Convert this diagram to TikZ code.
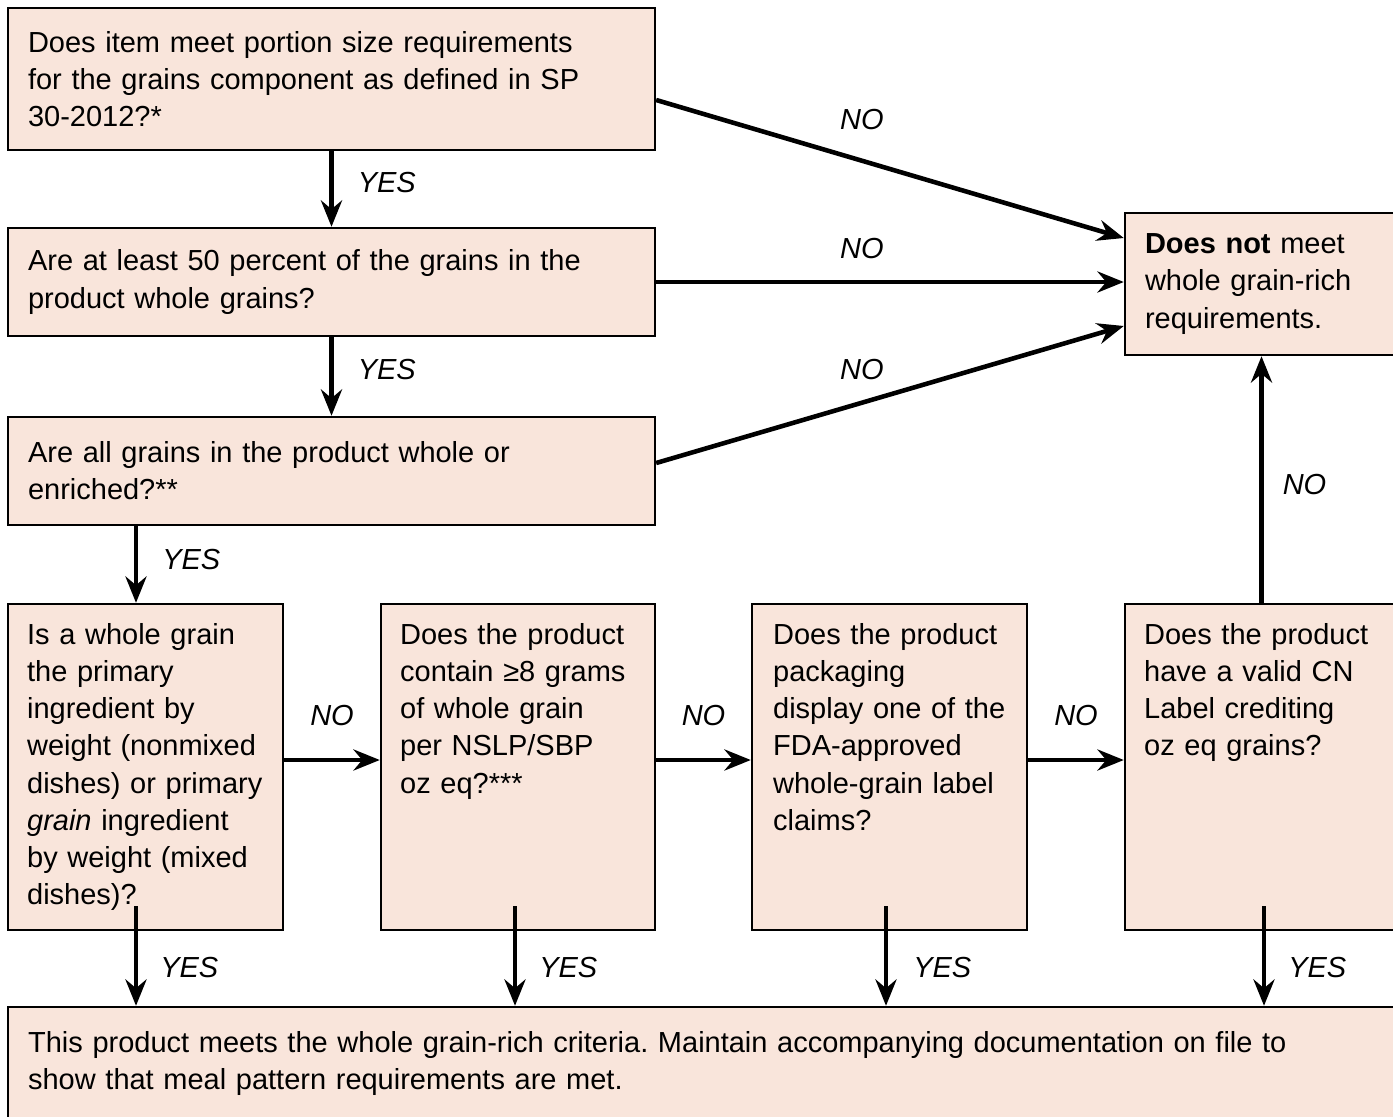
\documentclass[tikz,border=0pt]{standalone}
\usepackage{fontspec}
\setmainfont{Liberation Sans}
\usepackage{tikz}
\usetikzlibrary{arrows.meta,positioning}
\definecolor{boxfill}{RGB}{249,229,219}
\newcommand{\chartfont}{\fontsize{16.5}{21.2}\selectfont}
\hyphenpenalty=10000
\frenchspacing

\begin{document}
\begin{tikzpicture}[x=0.02cm,y=-0.02cm,
  >={Stealth[length=15pt,width=12pt,inset=5pt]},
  box node/.style={draw,line width=1.4pt,fill=boxfill,inner sep=0.4cm,align=left,font=\chartfont},
  text node/.style={inner sep=0.4cm,align=left,font=\chartfont},
  tag node/.style={inner sep=0pt,font=\chartfont\itshape},
  flow/.style={->,line width=2.6pt}]

  \clip (0,0) rectangle (1393,1116);

  \node[box node,text width=12.14cm,minimum height=2.84cm] (q1) at (331.5,79)
    {Does item meet portion size requirements\\for the grains component as defined in SP\\30-2012?*};
  \node[box node,text width=12.14cm,minimum height=2.16cm] (q2) at (331.5,282)
    {Are at least 50 percent of the grains in the\\product whole grains?};
  \node[box node,text width=12.14cm,minimum height=2.16cm] (q3) at (331.5,471)
    {Are all grains in the product whole or\\enriched?**};
  \node[box node,text width=4.66cm,minimum height=2.84cm] (fail) at (1261.5,284)
    {\textbf{Does not} meet\\whole grain-rich\\requirements.};

  \node[box node,minimum width=5.5cm,minimum height=6.52cm] (q4) at (145.5,767) {};
  \node[box node,minimum width=5.48cm,minimum height=6.52cm] (q5) at (518,767) {};
  \node[box node,minimum width=5.5cm,minimum height=6.52cm] (q6) at (889.5,767) {};
  \node[box node,minimum width=5.46cm,minimum height=6.52cm] (q7) at (1261.5,767) {};
  \node[text node,anchor=north west,text width=5cm] (t4) at (q4.north west)
    {Is a whole grain\\the primary\\ingredient by\\weight (nonmixed\\dishes) or primary\\\textit{grain} ingredient\\by weight (mixed\\dishes)?};
  \node[text node,anchor=north west,text width=5cm] (t5) at (q5.north west)
    {Does the product\\contain ≥8 grams\\of whole grain\\per NSLP/SBP\\oz eq?***};
  \node[text node,anchor=north west,text width=5cm] (t6) at ([xshift=0.04cm]q6.north west)
    {Does the product\\packaging\\display one of the\\FDA-approved\\whole-grain label\\claims?};
  \node[text node,anchor=north west,text width=5cm] (t7) at (q7.north west)
    {Does the product\\have a valid CN\\Label crediting\\oz eq grains?};

  \node[box node,text width=27.0cm,minimum height=2.26cm] (done) at (703,1063.5)
    {This product meets the whole grain-rich criteria. Maintain accompanying documentation on file to\\show that meal pattern requirements are met.};

  % yes branch down the left
  \draw[flow] (q1) -- (q2) node[tag node,pos=0.41,right=0.48cm] {YES};
  \draw[flow] (q2) -- (q3) node[tag node,pos=0.41,right=0.48cm] {YES};
  \draw[flow] ([xshift=-0.19cm]q4.north |- q3.south) -- ([xshift=-0.19cm]q4.north)
    node[tag node,pos=0.44,right=0.48cm] {YES};

  % no branches
  \draw[flow] ([yshift=-0.42cm]q1.east) -- ([yshift=0.92cm]fail.west)
    node[tag node,pos=0.44,above=0.57cm] {NO};
  \draw[flow] (q2.east) -- (q2.east -| fail.west)
    node[tag node,pos=0.44,above=0.41cm] {NO};
  \draw[flow] ([yshift=0.16cm]q3.east) -- ([yshift=-0.84cm]fail.west)
    node[tag node,pos=0.44,above=0.41cm] {NO};
  \draw[flow] ([yshift=0.14cm]q4.east) -- ([yshift=0.14cm]q5.west)
    node[tag node,midway,above=0.63cm] {NO};
  \draw[flow] ([yshift=0.14cm]q5.east) -- ([yshift=0.14cm]q6.west)
    node[tag node,midway,above=0.63cm] {NO};
  \draw[flow] ([yshift=0.14cm]q6.east) -- ([yshift=0.14cm]q7.west)
    node[tag node,midway,above=0.63cm] {NO};
  \draw[flow] (q7) -- (fail) node[tag node,pos=0.48,right=0.38cm] {NO};

  % yes into the last box
  \draw[flow] ([xshift=-0.19cm,yshift=0.5cm]q4.south) -- ([xshift=-0.19cm]q4.south |- done.north)
    node[tag node,pos=0.62,right=0.44cm] {YES};
  \draw[flow] ([xshift=-0.06cm,yshift=0.5cm]q5.south) -- ([xshift=-0.06cm]q5.south |- done.north)
    node[tag node,pos=0.62,right=0.44cm] {YES};
  \draw[flow] ([xshift=-0.07cm,yshift=0.5cm]q6.south) -- ([xshift=-0.07cm]q6.south |- done.north)
    node[tag node,pos=0.62,right=0.5cm] {YES};
  \draw[flow] ([xshift=0.05cm,yshift=0.5cm]q7.south) -- ([xshift=0.05cm]q7.south |- done.north)
    node[tag node,pos=0.62,right=0.44cm] {YES};
\end{tikzpicture}
\end{document}
